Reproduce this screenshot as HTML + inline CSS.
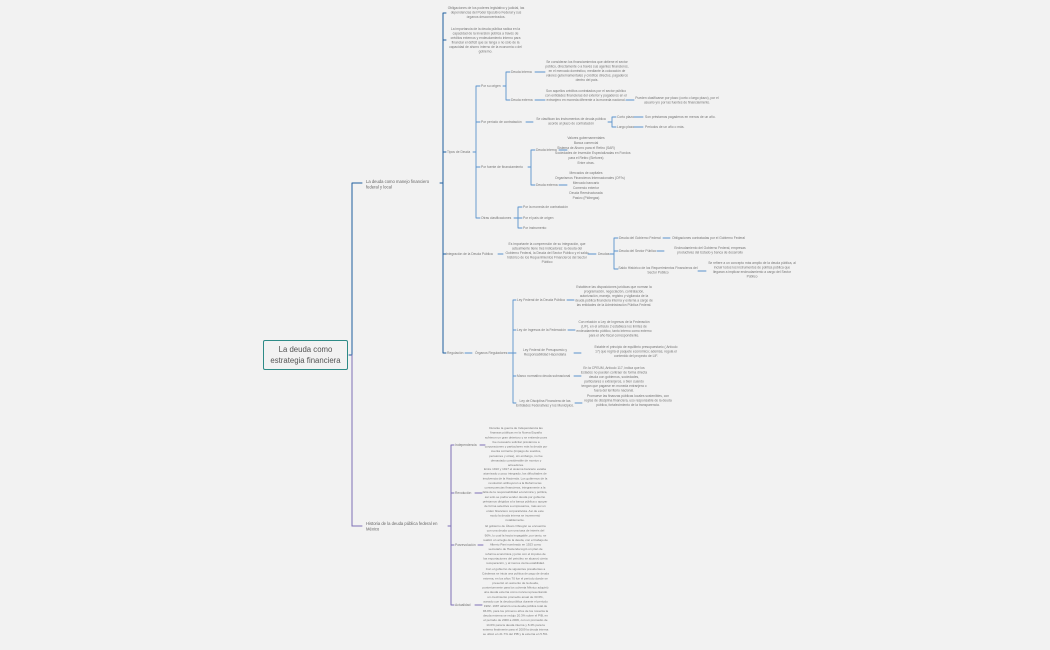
<!DOCTYPE html>
<html><head><meta charset="utf-8"><style>
html,body{margin:0;padding:0;background:#f2f2f2;}
#w{position:relative;width:1050px;height:650px;overflow:hidden;background:#f2f2f2;font-family:"Liberation Sans",sans-serif;}
.t{position:absolute;font-size:6.6px;line-height:9px;color:#767676;white-space:normal;transform:scale(0.5);transform-origin:0 0;}
.h{font-size:6.1px;line-height:9.3px;}
.c{text-align:center;}
.n{white-space:nowrap;}
svg{position:absolute;left:0;top:0;}
#root{position:absolute;left:263px;top:340px;width:85px;height:30px;border:1px solid #2e8b87;border-radius:2px;font-size:7.8px;line-height:10.5px;color:#555;text-align:center;box-sizing:border-box;padding-top:4px;}
</style></head><body><div id="w">
<svg width="1050" height="650" fill="none" stroke-linecap="round">
<g stroke="#1f5f9f" stroke-width="1">
<path d="M349 355 H352 M352 183 V355 M352 183 H362"/>
<path d="M440 183 H443 M443 13 V353 M443 13 H446 M443 40 H446 M443 152 H446 M443 254 H446 M443 353 H446"/>
</g>
<g stroke="#7e70b5" stroke-width="1">
<path d="M352 355 V526 H362"/>
<path d="M448 526 H451 M451 445 V605 M451 445 H454 M451 493 H454 M451 545 H454 M451 605 H454"/>
<path d="M480 445 H485 M475 493 H482 M478 545 H483 M475 605 H482"/>
</g>
<g stroke="#5a93cc" stroke-width="0.9">
<path d="M473 152 H476 M476 86 V218 M476 86 H480 M476 122 H480 M476 167 H480 M476 218 H480"/>
<path d="M503 86 H506 M506 72 V100 M506 72 H510 M506 100 H510"/>
<path d="M535 72 H545 M535 100 H545 M626 100 H634"/>
<path d="M526 122 H533 M608 122 H612 M612 117 V127 M612 117 H616 M612 127 H616 M634 117 H643 M634 127 H643"/>
<path d="M528 167 H531 M531 150 V185 M531 150 H535 M531 185 H535 M559 150 H567 M559 185 H567"/>
<path d="M514 218 H518 M518 207 V228 M518 207 H522 M518 218 H522 M518 228 H522"/>
<path d="M498 254 H503 M588 254 H596 M610 254 H614 M614 238 V269 M614 238 H618 M614 251 H618 M614 269 H618 M663 238 H670 M657 251 H664 M698 271 H706"/>
<path d="M465 353 H472 M508 353 H513 M513 300 V403 M513 300 H516 M513 330 H516 M513 353 H516 M513 376 H516 M513 403 H516"/>
<path d="M567 300 H574 M568 330 H575 M574 353 H581 M574 376 H581 M575 403 H582"/>
</g>
</svg>
<div id="root">La deuda como<br>estrategia financiera</div>
<div class="t" style="left:366px;top:179px;width:148px;font-size:8.4px;line-height:10.8px;color:#666">La deuda como manejo financiero federal y local</div>
<div class="t" style="left:366px;top:521px;width:170px;font-size:8.4px;line-height:10.8px;color:#666">Historia de la deuda pública federal en México</div>

<div class="t c" style="left:446px;top:6px;width:160px">Obligaciones de los poderes legislativo y judicial, las dependencias del Poder Ejecutivo Federal y sus órganos desconcentrados.</div>
<div class="t c" style="left:447px;top:27px;width:154px">La importancia de la deuda pública radica en la capacidad de la inversión pública a través de créditos externos y endeudamiento interno para financiar el déficit que se tenga o no sólo de la capacidad de ahorro interno de la economía o del gobierno.</div>
<div class="t n" style="left:447px;top:150px">Tipos de Deuda</div>
<div class="t n" style="left:481px;top:84px">Por su origen</div>
<div class="t n" style="left:511px;top:70px">Deuda interna</div>
<div class="t n" style="left:511px;top:98px">Deuda externa</div>
<div class="t c" style="left:545px;top:60px;width:168px">Se consideran los financiamientos que obtiene el sector público, directamente o a través sus agentes financieros, en el mercado doméstico, mediante la colocación de valores gubernamentales y créditos directos, pagaderos dentro del país.</div>
<div class="t c" style="left:545px;top:89px;width:164px">Son aquellos créditos contratados por el sector público con entidades financieras del exterior y pagaderos en el extranjero en moneda diferente a la moneda nacional.</div>
<div class="t c" style="left:635px;top:96px;width:168px">Pueden clasificarse por plazo (corto o largo plazo), por el usuario y/o por las fuentes de financiamiento.</div>
<div class="t n" style="left:481px;top:120px">Por período de contratación</div>
<div class="t c" style="left:533px;top:117px;width:152px">Se clasifican los instrumentos de deuda pública acorde al plazo de contratación</div>
<div class="t n" style="left:617px;top:115px">Corto plazo</div>
<div class="t n" style="left:617px;top:125px">Largo plazo</div>
<div class="t n" style="left:645px;top:115px">Son préstamos pagaderos en menos de un año.</div>
<div class="t n" style="left:645px;top:125px">Periodos de un año o más.</div>
<div class="t n" style="left:481px;top:165px">Por fuente de financiamiento</div>
<div class="t n" style="left:536px;top:148px">Deuda interna</div>
<div class="t n" style="left:536px;top:183px">Deuda externa</div>
<div class="t c n" style="left:555px;top:136px;width:124px;line-height:10px">Valores gubernamentales<br>Banca comercial<br>Sistema de Ahorro para el Retiro (SAR)<br>Sociedades de Inversión Especializadas en Fondos<br>para el Retiro (Siefores)<br>Entre otras.</div>
<div class="t c n" style="left:555px;top:171px;width:124px;line-height:10px">Mercados de capitales<br>Organismos Financieros Internacionales (OFI's)<br>Mercado bancario<br>Comercio exterior<br>Deuda Reestructurada<br>Pasivo (Pidiregas)</div>
<div class="t n" style="left:481px;top:216px">Otras clasificaciones</div>
<div class="t n" style="left:523px;top:205px">Por la moneda de contratación</div>
<div class="t n" style="left:523px;top:216px">Por el país de origen</div>
<div class="t n" style="left:523px;top:226px">Por instrumento</div>

<div class="t n" style="left:446px;top:252px">Integración de la Deuda Pública</div>
<div class="t c" style="left:505px;top:242px;width:168px">Es importante la comprensión de su integración, que actualmente tiene tres indicadores: la deuda del Gobierno Federal, la Deuda del Sector Público y el saldo histórico de los Requerimientos Financieros del Sector Público</div>
<div class="t n" style="left:598px;top:252px">Deudas</div>
<div class="t n" style="left:619px;top:236px">Deuda del Gobierno Federal</div>
<div class="t n" style="left:672px;top:236px">Obligaciones contratadas por el Gobierno Federal</div>
<div class="t n" style="left:619px;top:249px">Deuda del Sector Público</div>
<div class="t c" style="left:666px;top:246px;width:176px">Endeudamiento del Gobierno Federal, empresas productivas del Estado y banca de desarrollo</div>
<div class="t c" style="left:618px;top:266px;width:160px">Saldo Histórico de los Requerimientos Financieros del Sector Público</div>
<div class="t c" style="left:708px;top:261px;width:176px">Se refiere a un concepto más amplio de la deuda pública, al incluir todos los instrumentos de política pública que llegaran a implicar endeudamiento a cargo del Sector Público</div>

<div class="t n" style="left:447px;top:351px">Regulación</div>
<div class="t n" style="left:475px;top:351px">Órganos Reguladores</div>
<div class="t n" style="left:517px;top:298px">Ley Federal de la Deuda Pública</div>
<div class="t c" style="left:575px;top:285px;width:156px">Establece las disposiciones jurídicas que norman la programación, negociación, contratación, autorización, manejo, registro y vigilancia de la deuda pública financiera interna y externa a cargo de las entidades de la Administración Pública Federal.</div>
<div class="t n" style="left:517px;top:328px">Ley de Ingresos de la Federación</div>
<div class="t c" style="left:576px;top:320px;width:152px">Con relación a Ley de Ingresos de la Federación (LIF), en el artículo 2 establece los límites de endeudamiento público, tanto interno como externo para el año fiscal correspondiente.</div>
<div class="t c" style="left:516px;top:348px;width:116px">Ley Federal de Presupuesto y Responsabilidad Hacendaria</div>
<div class="t c" style="left:594px;top:345px;width:168px">Estable el principio de equilibrio presupuestario ( Artículo 17) que regirá el paquete económico; además, regula el contenido del proyecto de LIF.</div>
<div class="t c" style="left:580px;top:366px;width:136px">En la CPEUM, Artículo 117, indica que los Estados no pueden contraer de forma directa deuda con gobiernos, sociedades, particulares o extranjeros, o bien cuando tengan que pagarse en moneda extranjera o fuera del territorio nacional.</div>
<div class="t n" style="left:517px;top:374px">Marco normativo deuda subnacional</div>
<div class="t c" style="left:516px;top:399px;width:116px">Ley de Disciplina Financiera de las Entidades Federativas y los Municipios.</div>
<div class="t c" style="left:584px;top:394px;width:176px">Promueve las finanzas públicas locales sostenibles, con reglas de disciplina financiera, uso responsable de la deuda pública, fortalecimiento de la transparencia.</div>

<div class="t n" style="left:455px;top:443px">Independencia</div>
<div class="t c h" style="left:484px;top:426px;width:128px">Durante la guerra de Independencia las finanzas públicas en la Nueva España sufrieron un gran deterioro y se entiende pues fue necesario solicitar préstamos a corporaciones y particulares más la deuda por cuenta corriente (impago de sueldos, pensiones y otras), sin embargo, no fue demasiado considerable de montos y acreedores.</div>
<div class="t n" style="left:455px;top:491px">Revolución</div>
<div class="t c h" style="left:482px;top:467px;width:132px">Entre 1910 y 1917 el sistema bancario estaba atomizado y poco integrado, las dificultades de insolvencia de la Hacienda. Los gobiernos de la revolución atribuyeron a la Reforma las consecuencias financieras, integramente a la falta de la responsabilidad económica y política, así sólo se podía vender deuda por gobierno préstamos dirigidos a la banca pública o apoyar de forma selectiva a empresarios, más así un orden financiero corporativista. Así de este modo la deuda interna se incrementó notablemente.</div>
<div class="t n" style="left:455px;top:543px">Posrevolución</div>
<div class="t c h" style="left:483px;top:524px;width:130px">El gobierno de Álvaro Obregón se encuentra con una deuda con una tasa de interés del 90%, lo cual la hacía impagable, por tanto, se realizó un arreglo de la deuda, con el trabajo de Alberto Pani nombrado en 1923 como secretario de Hacienda logró un plan de reforma económica y junto con el impulso de las exportaciones del petróleo se alcanzó cierta recuperación, y al menos cierta estabilidad.</div>
<div class="t n" style="left:455px;top:603px">Actualidad</div>
<div class="t c h" style="left:482px;top:567px;width:134px">Con el gobierno de siguientes presidentes a Cárdenas se inicia una política de pago de deuda externa, en los años 70 fue el período donde se presentó un aumento de la deuda, posteriormente para los ochenta México adquirió una deuda externa como nunca representando un crecimiento promedio anual de 33.6%, aunado con la deuda pública durante el período 1982- 1987 alcanzó una deuda pública total de 96.8%, para los primeros años de los noventa la deuda externa se redujo 20.3% sobre el PIB, en el período de 2000 a 2006, con un promedio de 14.6% para la deuda interna y 8.4% para la externa finalmente para el 2009 la deuda interna se ubicó en 21.7% del PIB y la externa en 5.5%.</div>
</div></body></html>
